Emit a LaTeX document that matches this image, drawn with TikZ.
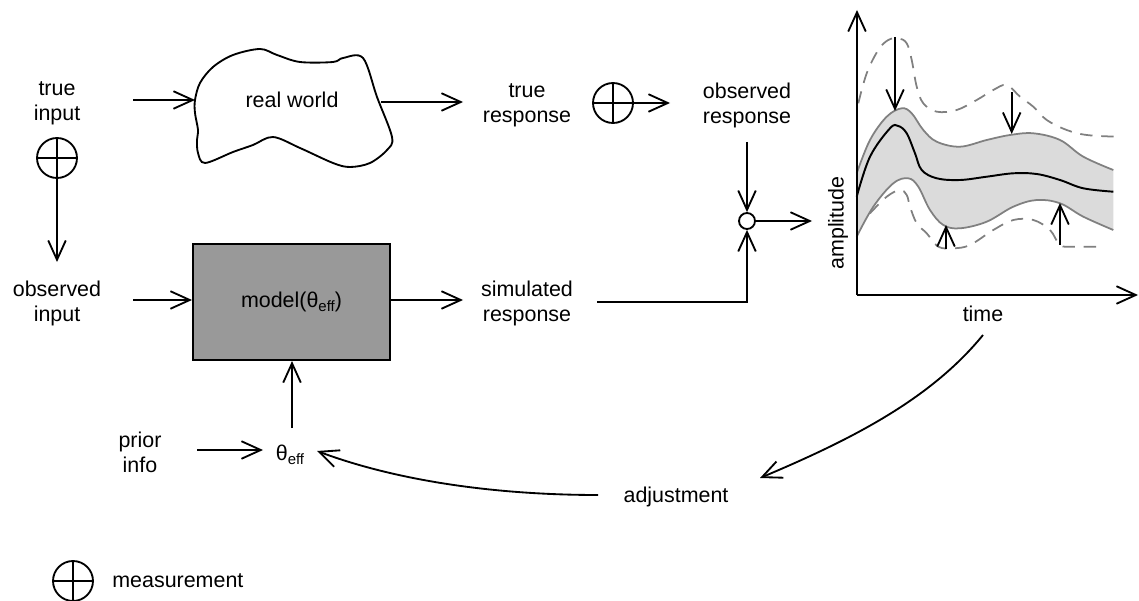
\documentclass[tikz,border=0pt]{standalone}
\usepackage{fontspec}
\setmainfont{Liberation Sans}
\usetikzlibrary{arrows.meta}
\newcommand{\thetaeff}{θ\raisebox{-0.35ex}{\fontsize{8.5}{9}\selectfont eff}}
\begin{document}
\begin{tikzpicture}[x=0.02cm,y=-0.02cm,
  every node/.style={font=\fontsize{12.2}{14.2}\selectfont, inner sep=0pt, align=center},
  conn/.style={line width=1.05pt, -{Straight Barb[length=11pt,width=10pt,line width=1.05pt]}},
  line/.style={line width=1.05pt},
  meas/.style={circle, draw, line width=1.05pt, minimum size=0.8cm, path picture={
      \draw[line width=1.05pt] (path picture bounding box.north) -- (path picture bounding box.south)
        (path picture bounding box.west) -- (path picture bounding box.east);}},
  modelbox/.style={draw, line width=1.2pt, fill=black!40, minimum width=3.94cm, minimum height=2.32cm},
  junction/.style={circle, draw, line width=1.05pt, fill=white, minimum size=0.32cm},
  bandedge/.style={draw=black!50, line width=1pt},
  dashline/.style={draw=black!50, line width=1pt, dash pattern=on 7pt off 5pt},
]
\useasboundingbox (0,0) rectangle (1139,601);

% left column
\node (ti) at (57,103) {true\\input};
\node[meas] (m1) at (57,158) {};
\coordinate (oitop) at (57,262);
\node (oi) at (57,303) {observed\\input};
\node (pi) at (140,452) {prior\\info};

% real world blob
\draw[line width=1.05pt] plot[smooth cycle, tension=0.55] coordinates {
 (195,100) (200,83) (213,67) (233,55) (260,49) (277,55) (300,62) (333,62) (343,58) (363,58)
 (377,97) (392,137) (387,150) (370,163) (350,167) (333,163) (300,148) (273,137) (253,145)
 (233,152) (205,163) (198,153) (197,140) (198,130) (195,113)};
\node (rw) at (292,100) {real world};
\coordinate (rwin) at (195,100);
\coordinate (rwout) at (381,102);
\coordinate (tiout) at (133,100);

% model
\node[modelbox] (model) at (291.5,302) {model(\thetaeff)};
\coordinate (oiout) at (133,300);
\node (th) at (290,455) {\thetaeff};

% responses
\node (tr) at (527,105) {true\\response};
\node[meas] (m2) at (613,103) {};
\node (or) at (747,105) {observed\\response};
\node (sr) at (527,303) {simulated\\response};
\node[junction] (j) at (747,221) {};
\coordinate (jout) at (812,221);
\coordinate (orbot) at (747,142);
\coordinate (srout) at (597,302);
\coordinate (corner) at (747,302);

% connectors
\draw[conn] (tiout) -- (rwin);
\draw[conn] (rwout) -- (463,102) coordinate (trin);
\draw[conn] (m2.east) -- (670,103) coordinate (orin);
\draw[conn] (m1.south) -- (oitop);
\draw[line] (m1.south) -- (m1.north);
\draw[conn] (oiout) -- (model.west |- oiout);
\draw[conn] (model.east |- 0,300) -- (463,300) coordinate (srin);
\draw[conn] (orbot) -- (j.north);
\draw[conn] (srout) -- (corner) -- (j.south);
\draw[conn] (j.east) -- (jout);
\draw[conn] (292,428) coordinate (thtop) -- (model.south -| thtop);
\draw[conn] (197,450) coordinate (piout) -- (263,450) coordinate (thin);

% plot
\coordinate (orig) at (857,295);
\coordinate (ytip) at (857,10);
\coordinate (xtip) at (1138,295);
\fill[black!14] plot[smooth, tension=0.6] coordinates {
 (856.7,173.3) (870,140) (886.7,116.7) (901.7,108.3) (911.7,113.3) (923.3,130) (936.7,141.7)
 (960,146.7) (986.7,140) (1010,135) (1033.3,133.3) (1060,140) (1083.3,156.7) (1113.3,170)}
 -- plot[smooth, tension=0.6] coordinates {
 (1113.3,230) (1083.3,216.7) (1060,203.3) (1036.7,200) (1013.3,206.7) (986.7,221.7) (960,228.3)
 (943.3,225) (930,210) (918.3,186.7) (908.3,178.3) (893.3,183.3) (873.3,206.7) (856.7,236.7)} -- cycle;
\draw[bandedge] plot[smooth, tension=0.6] coordinates {
 (856.7,173.3) (870,140) (886.7,116.7) (901.7,108.3) (911.7,113.3) (923.3,130) (936.7,141.7)
 (960,146.7) (986.7,140) (1010,135) (1033.3,133.3) (1060,140) (1083.3,156.7) (1113.3,170)};
\draw[bandedge] plot[smooth, tension=0.6] coordinates {
 (856.7,236.7) (873.3,206.7) (893.3,183.3) (908.3,178.3) (918.3,186.7) (930,210) (943.3,225)
 (960,228.3) (986.7,221.7) (1013.3,206.7) (1036.7,200) (1060,203.3) (1083.3,216.7) (1113.3,230)};
\draw[line width=1.1pt] plot[smooth, tension=0.6] coordinates {
 (856.7,196.7) (870,156.7) (890,128.3) (898.3,126) (906.7,133.3) (915,153.3) (921.7,170)
 (936.7,178.3) (960,180) (986.7,176.7) (1013.3,173.3) (1036.7,174) (1060,180) (1083.3,188.3) (1113.3,191.7)};
\draw[dashline] plot[smooth, tension=0.6] coordinates {
 (858.3,103.3) (866.7,73.3) (878.3,50) (888.3,40) (898.3,38.3) (906.7,43.3) (911.7,60) (916.7,86.7)
 (923.3,103.3) (936.7,111.7) (956.7,110) (976.7,100) (993.3,90) (1006.7,85) (1020,96.7)
 (1033.3,106.7) (1046.7,120) (1066.7,130) (1086.7,135) (1116.7,136.7)};
\draw[dashline] plot[smooth, tension=0.6] coordinates {
 (870,213.3) (886.7,196.7) (900,190) (906.7,195) (910,206.7) (916.7,223.3) (926.7,233.3)
 (938.3,246.7) (953.3,248.3) (970,245) (993.3,230) (1013.3,220) (1033.3,220) (1050,230)
 (1060,245) (1073.3,246.7) (1103.3,246.7)};
\draw[conn] (895,37) -- (895,111);
\draw[conn] (1011.7,92) -- (1011.7,134);
\draw[conn] (946,249) -- (946,225);
\draw[conn] (1060,245) -- (1060,203);
\draw[conn] (orig) -- (ytip);
\draw[conn] (orig) -- (xtip);
\node[rotate=90] (amp) at (838,223) {amplitude};
\node (time) at (983,314) {time};

% feedback
\node (adj) at (676,497) {adjustment};
\coordinate (tstart) at (983,335);
\coordinate (adjin) at (760,478);
\draw[conn] (tstart) .. controls (930,400) and (850,440) .. (adjin);
\draw[conn] (adj.west) ++(-25,-2) coordinate (adjout) .. controls (500,495) and (400,482) .. (317,451) coordinate (thin2);

% legend
\node[meas] (m3) at (73,581) {};
\node[anchor=west] (ml) at (112,581) {measurement};
\end{tikzpicture}
\end{document}
